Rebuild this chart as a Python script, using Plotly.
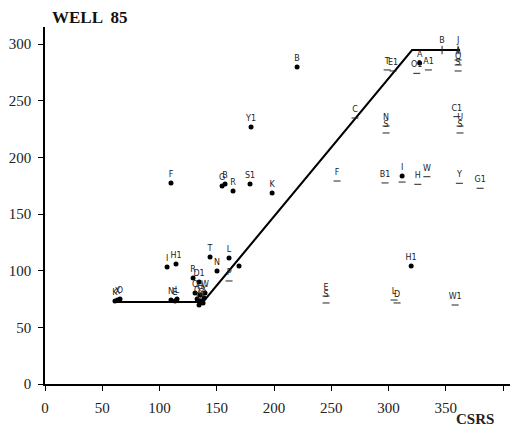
import plotly.graph_objects as go

# Fitted piecewise-linear trend (CSRS vs well response)
trend_x = [60.3, 138.0, 320.5, 362.4]
trend_y = [72.4, 72.4, 294.7, 294.7]

# Observations plotted as filled dots
dot_labels = ["B", "Y1", "F", "G", "B", "R", "S1", "K", "T", "L", "I", "H1", "N", "",
              "R", "D1", "A", "H1",
              "O", "H", "W", "Q", "G", "X", "U", "V",
              "K", "O", "X", "N", "E", "L", "I"]
dot_x = [220.1, 179.9, 110.0, 154.6, 157.2, 164.2, 179.0, 198.3, 144.1, 160.7, 106.6, 114.4, 150.2, 169.4,
         129.3, 134.5, 327.1, 319.7,
         131.0, 135.4, 139.7, 132.8, 136.2, 138.9, 134.5, 138.0,
         61.1, 65.5, 63.3, 110.0, 113.5, 115.3, 311.8]
dot_y = [279.7, 226.8, 177.4, 174.7, 176.5, 170.3, 176.5, 168.5, 112.1, 111.2, 103.2, 105.9, 99.7, 104.1,
         93.5, 90.0, 283.2, 104.1,
         80.3, 78.5, 80.3, 75.0, 73.2, 75.9, 69.7, 71.5,
         73.2, 75.0, 74.1, 74.1, 73.2, 75.0, 183.5]

# Observations plotted as short dashes
dash_labels = ["T", "E1", "C", "P", "N", "S", "C1", "U", "S", "F", "B1", "", "H", "W", "Y", "G1",
               "O1", "A1", "A", "Q", "S", "E", "S", "L", "D", "W1"]
dash_x = [298.7, 303.9, 270.7, 160.7, 297.8, 297.8, 359.6, 362.4, 362.4, 255.0, 296.9, 311.8, 325.5, 333.4, 361.8, 379.9,
          324.6, 334.8, 360.7, 360.7, 360.7, 245.4, 245.4, 304.8, 307.4, 358.1]
dash_y = [277.1, 276.2, 234.7, 90.9, 227.6, 221.5, 235.9, 227.6, 221.5, 179.1, 177.4, 178.2, 176.2, 182.9, 177.1, 172.7,
          274.1, 277.1, 285.9, 281.5, 276.2, 77.6, 71.5, 74.1, 71.5, 69.7]

# Marks sitting on the upper plateau of the trend
tick_labels = ["B", "J"]
tick_x = [346.7, 360.7]
tick_y = [294.7, 294.7]

x_ticks = [0, 50, 100, 150, 200, 250, 300, 350, 400]
y_ticks = [0, 50, 100, 150, 200, 250, 300]

label_font = dict(family="DejaVu Sans", size=8, color="#222222")
serif = "Liberation Serif"

fig = go.Figure()
fig.add_trace(go.Scatter(x=trend_x, y=trend_y, mode="lines",
                         line=dict(color="black", width=2), hoverinfo="skip"))
fig.add_trace(go.Scatter(x=dot_x, y=dot_y, mode="markers+text", text=dot_labels,
                         textposition="top center", textfont=label_font,
                         marker=dict(color="black", size=5)))
fig.add_trace(go.Scatter(x=dash_x, y=dash_y, mode="markers+text", text=dash_labels,
                         textposition="top center", textfont=label_font,
                         marker=dict(symbol="line-ew", size=5,
                                     line=dict(color="#222222", width=1))))
fig.add_trace(go.Scatter(x=tick_x, y=tick_y, mode="markers+text", text=tick_labels,
                         textposition="top center", textfont=label_font,
                         marker=dict(symbol="line-ns", size=6,
                                     line=dict(color="#222222", width=1))))

fig.update_layout(
    width=510, height=427,
    margin=dict(l=45, r=0, t=27, b=43),
    paper_bgcolor="white", plot_bgcolor="white",
    showlegend=False,
    title=dict(text="<b>WELL  85</b>", x=52 / 510, xref="container", xanchor="left",
               y=1 - 17 / 427, yref="container", yanchor="middle",
               font=dict(family=serif, size=17, color="#111111")),
    xaxis=dict(range=[0, 406], tickvals=x_ticks, showline=True, linecolor="black", linewidth=1.5,
               ticks="outside", ticklen=5, tickcolor="black", showgrid=False, zeroline=False,
               tickfont=dict(family=serif, size=15, color="#222222"), ticklabelstandoff=4),
    yaxis=dict(range=[0, 315], tickvals=y_ticks, showline=True, linecolor="black", linewidth=1.5,
               ticks="outside", ticklen=5, tickcolor="black", showgrid=False, zeroline=False,
               tickfont=dict(family=serif, size=15, color="#222222"), ticklabelstandoff=4),
    annotations=[dict(text="<b>CSRS</b>", x=(475 - 45) / 465, y=(384 - 419) / 357,
                      xref="paper", yref="paper", showarrow=False, xanchor="center", yanchor="middle",
                      font=dict(family=serif, size=15, color="#222222"))],
)

fig.write_html("out.html")
